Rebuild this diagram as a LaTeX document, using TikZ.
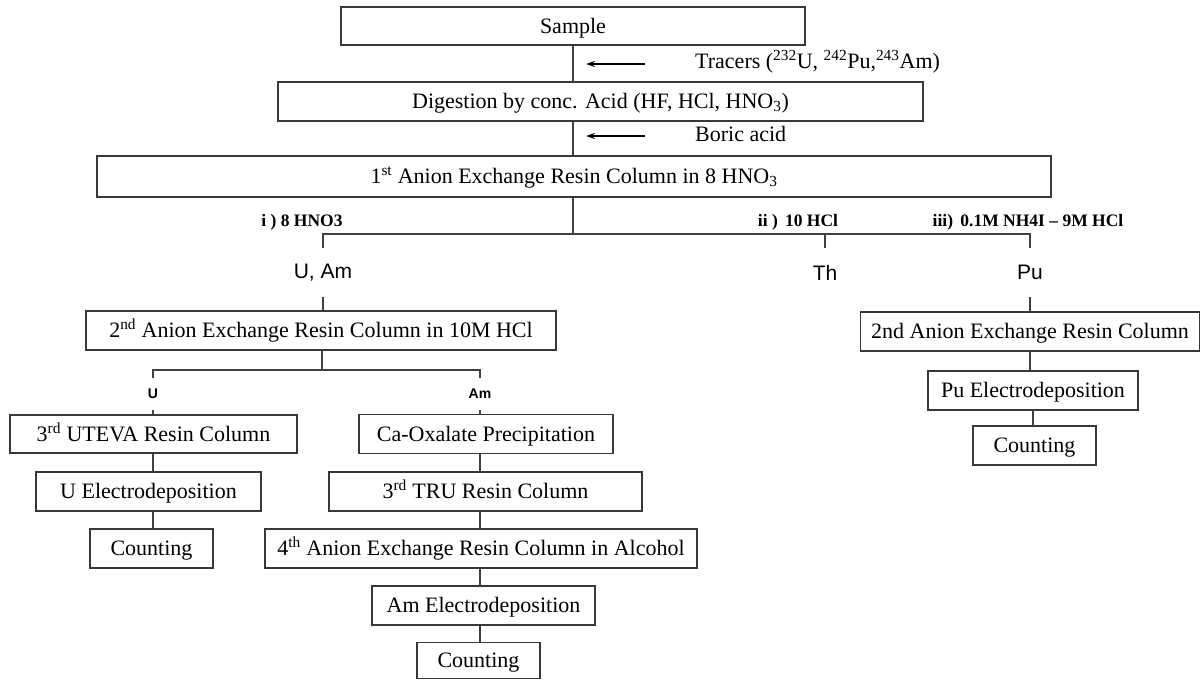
\documentclass[tikz,border=0pt]{standalone}
\usepackage{fontspec}
\setmainfont{Liberation Serif}
\setsansfont{Liberation Sans}
\usetikzlibrary{arrows.meta}
\begin{document}
\begin{tikzpicture}[x=1pt,y=-1pt,
  conn/.style={draw=black!75, line width=1.3pt},
  box/.style={draw=black!78, line width=1.3pt, rectangle, inner sep=0pt, anchor=center,
    text height=17pt, text depth=3pt, font=\fontsize{22}{26}\selectfont},
  cond/.style={inner sep=0pt, font=\fontsize{17.5}{20}\selectfont\bfseries},
  elem/.style={inner sep=0pt, font=\sffamily\fontsize{21}{24}\selectfont},
  small/.style={inner sep=0pt, font=\sffamily\bfseries\fontsize{14}{16}\selectfont},
  addarrow/.style={-{Stealth[length=9pt,width=6pt]}, line width=1.2pt, draw=black},
  addtext/.style={inner sep=0pt, anchor=west, font=\fontsize{22}{26}\selectfont}
]
\useasboundingbox (0,0) rectangle (1202,680);

% main column
\node[box, minimum width=464pt, minimum height=38pt] (sample) at (573,26) {Sample};
\node[box, minimum width=645pt, minimum height=39pt] (digest) at (600.5,101.5) {Digestion by conc. Acid (HF, HCl, HNO\textsubscript{3})};
\node[box, minimum width=954pt, minimum height=41pt] (first) at (574,176.5) {1\textsuperscript{st} Anion Exchange Resin Column in 8 HNO\textsubscript{3}};

\draw[conn] (sample.south) -- (sample.south |- digest.north);
\draw[conn] (sample.south |- digest.south) -- (sample.south |- first.north);

% additions
\coordinate (tr1) at (645,64);
\coordinate (tr2) at (586,64);
\draw[addarrow] (tr1) -- (tr2);
\node[addtext] (tracers) at (695,62)
  {Tracers (\textsuperscript{232}U, \textsuperscript{242}Pu,\textsuperscript{243}Am)};
\coordinate (bo1) at (645,136);
\coordinate (bo2) at (586,136);
\draw[addarrow] (bo1) -- (bo2);
\node[addtext] (boric) at (695,134) {Boric acid};

% first split
\coordinate (bar) at (573,234);
\node[elem, minimum height=49pt] (uam) at (323,272.5) {U, Am};
\node[elem, minimum height=49pt] (th) at (825,272.5) {Th};
\node[elem, minimum height=49pt] (pu) at (1030,272.5) {Pu};
\draw[conn] (bar |- first.south) -- (bar);
\draw[conn] (uam.north) |- (bar) -| (pu.north);
\draw[conn] (th.north) -- (th.north |- bar);

\node[cond] (c1) at (302,222) {i ) 8 HNO3};
\node[cond] (c2) at (798,222) {ii )\, 10 HCl};
\node[cond] (c3) at (1028,222) {iii)\, 0.1M NH4I -- 9M HCl};

% left branch
\node[box, minimum width=470pt, minimum height=39pt] (second) at (321,330.5) {2\textsuperscript{nd} Anion Exchange Resin Column in 10M HCl};
\draw[conn] (uam.south) -- (uam.south |- second.north);

\coordinate (bar2) at (322,370);
\node[small, minimum height=32pt] (ulab) at (153,394) {U};
\node[small, minimum height=32pt] (amlab) at (480,394) {Am};
\draw[conn] (bar2 |- second.south) -- (bar2);
\draw[conn] (ulab.north) |- (bar2) -| (amlab.north);

% U column
\node[box, minimum width=287pt, minimum height=38pt] (uteva) at (153.5,434) {3\textsuperscript{rd} UTEVA Resin Column};
\node[box, minimum width=225pt, minimum height=39pt] (uel) at (148.5,491.5) {U Electrodeposition};
\node[box, minimum width=123pt, minimum height=39pt] (ucount) at (151.5,548.5) {Counting};
\draw[conn] (ulab.south) -- (ulab.south |- uteva.north);
\draw[conn] (ulab.south |- uteva.south) -- (ulab.south |- uel.north);
\draw[conn] (ulab.south |- uel.south) -- (ulab.south |- ucount.north);

% Am column
\node[box, minimum width=254pt, minimum height=39pt] (caox) at (486,434) {Ca-Oxalate Precipitation};
\node[box, minimum width=313pt, minimum height=39pt] (tru) at (485.5,491.5) {3\textsuperscript{rd} TRU Resin Column};
\node[box, minimum width=432pt, minimum height=39pt] (fourth) at (481,548.5) {4\textsuperscript{th} Anion Exchange Resin Column in Alcohol};
\node[box, minimum width=223pt, minimum height=39pt] (amel) at (483.5,605.5) {Am Electrodeposition};
\node[box, minimum width=123pt, minimum height=36pt] (amcount) at (478.5,660.5) {Counting};
\draw[conn] (amlab.south) -- (amlab.south |- caox.north);
\draw[conn] (amlab.south |- caox.south) -- (amlab.south |- tru.north);
\draw[conn] (amlab.south |- tru.south) -- (amlab.south |- fourth.north);
\draw[conn] (amlab.south |- fourth.south) -- (amlab.south |- amel.north);
\draw[conn] (amlab.south |- amel.south) -- (amlab.south |- amcount.north);

% Pu column
\node[box, minimum width=339pt, minimum height=39pt] (pu2) at (1030,331.5) {2nd Anion Exchange Resin Column};
\node[box, minimum width=210pt, minimum height=39pt] (puel) at (1033,390.5) {Pu Electrodeposition};
\node[box, minimum width=123pt, minimum height=39pt] (pucount) at (1034.5,445.5) {Counting};
\draw[conn] (pu.south) -- (pu.south |- pu2.north);
\draw[conn] (pu2.south) -- (pu2.south |- puel.north);
\draw[conn] (puel.south) -- (puel.south |- pucount.north);
\end{tikzpicture}
\end{document}
